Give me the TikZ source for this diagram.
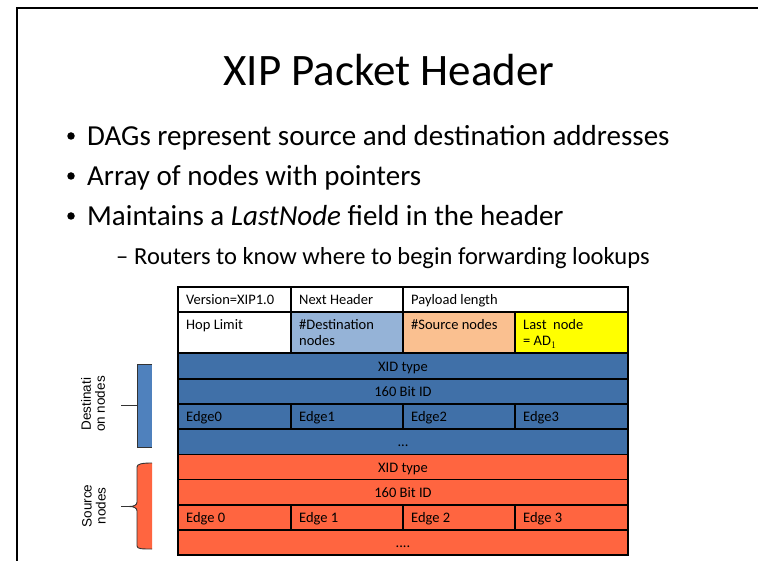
\documentclass[tikz,border=0pt]{standalone}
\usepackage{fontspec}
\setmainfont{Carlito}
\newfontfamily\arialfont{Liberation Sans}
\definecolor{tblblue}{RGB}{64,112,168}
\definecolor{brblue}{RGB}{79,129,189}
\definecolor{ltblue}{RGB}{149,179,215}
\definecolor{peach}{RGB}{250,192,144}
\definecolor{orng}{RGB}{255,101,64}
\definecolor{yel}{RGB}{255,255,0}
\tikzset{
  titletext/.style={anchor=base, inner sep=0pt, font=\fontsize{45}{54}\selectfont},
  bullettext/.style={anchor=base west, inner sep=0pt, font=\fontsize{29}{34}\selectfont},
  bulletdot/.style={circle, fill=black, inner sep=0pt, minimum size=7.5pt},
  subtext/.style={anchor=base west, inner sep=0pt, font=\fontsize{24.5}{29}\selectfont},
  celltext/.style={anchor=base west, inner sep=0pt, font=\fontsize{14.5}{17}\selectfont},
  ctrtext/.style={anchor=base, inner sep=0pt, font=\fontsize{14.5}{17}\selectfont},
  sidelabel/.style={rotate=90, align=center, inner sep=0pt, font=\arialfont\fontsize{13.5}{14}\selectfont},
  grid/.style={line width=1.3pt, black},
}
\begin{document}
\begin{tikzpicture}[x=1pt,y=-1pt]
\useasboundingbox (0,0) rectangle (758,561);
% slide frame
\draw[line width=2.6pt] (17,561) -- (17,8) -- (758,8);
% title
\node[titletext] (title) at (389,86) {XIP Packet Header};
% bullets
\node[bulletdot] (b1dot) at (71,136) {};
\node[bullettext] (b1) at (87,146) {DAGs represent source and destination addresses};
\node[bulletdot] (b2dot) at (71,176) {};
\node[bullettext] (b2) at (87,186) {Array of nodes with pointers};
\node[bulletdot] (b3dot) at (71,216) {};
\node[bullettext] (b3) at (87,226) {Maintains a \textit{LastNode} field in the header};
\node[subtext] (s1dash) at (116,265) {–};
\node[subtext] (s1) at (134,265) {Routers to know where to begin forwarding lookups};
% table fills
\fill[white] (178,287) rectangle (628,353);
\fill[ltblue] (291,312) rectangle (403,353);
\fill[peach] (403,312) rectangle (515,353);
\fill[yel] (515,312) rectangle (628,353);
\fill[tblblue] (178,353) rectangle (628,454.5);
\fill[orng] (178,454.5) rectangle (628,555);
% grid lines
\foreach \yy in {312,353,379,404,429,454.5,479.5,505,530}
  \draw[grid] (178,\yy) -- (628,\yy);
\draw[grid] (291,287) -- (291,353);
\draw[grid] (403,287) -- (403,353);
\draw[grid] (515,312) -- (515,353);
\foreach \xx in {291,403,515} {
  \draw[grid] (\xx,404) -- (\xx,429);
  \draw[grid] (\xx,505) -- (\xx,530);
}
\draw[line width=2pt] (178,287) rectangle (628,555);
% table texts
\node[celltext] (ver) at (186,305) {Version=XIP1.0};
\node[celltext] (nh) at (299,305) {Next Header};
\node[celltext] (pl) at (411,305) {Payload length};
\node[celltext] (hop) at (186,329.5) {Hop Limit};
\node[celltext] (dn1) at (299,329.5) {\#Destination};
\node[celltext] (dn2) at (299,346) {nodes};
\node[celltext] (sn) at (411,329.5) {\#Source nodes};
\node[celltext] (ln1) at (523,329.5) {Last\ \ node};
\node[celltext] (ln2) at (523,346) {= AD$_{\scriptstyle 1}$};
\node[ctrtext] (dxid) at (403,371) {XID type};
\node[ctrtext] (did) at (403,396) {160 Bit ID};
\node[celltext] (de0) at (186,421) {Edge0};
\node[celltext] (de1) at (299,421) {Edge1};
\node[celltext] (de2) at (411,421) {Edge2};
\node[celltext] (de3) at (523,421) {Edge3};
\node[ctrtext] (ddots) at (403,446) {...};
\node[ctrtext] (sxid) at (403,472) {XID type};
\node[ctrtext] (sid) at (403,497) {160 Bit ID};
\node[celltext] (se0) at (186,522) {Edge 0};
\node[celltext] (se1) at (299,522) {Edge 1};
\node[celltext] (se2) at (411,522) {Edge 2};
\node[celltext] (se3) at (523,522) {Edge 3};
\node[ctrtext] (sdots) at (403,547) {....};
% destination bracket
\fill[brblue] (137,364) rectangle (152,447);
\draw[line width=0.9pt, black!80] (152,364) -- (137,364) -- (137,447) -- (152,447);
\coordinate (dtip) at (137,405.5);
\coordinate (dtick) at (121,405.5);
\draw[line width=0.9pt, black!80] (dtick) -- (dtip);
\node[sidelabel] (dlabel) at (93,404) {Destinati\\on nodes};
% source brace
\fill[orng] (152,463) .. controls (142,463) and (137,464) .. (137,467) -- (137,502)
  .. controls (137,505) and (134,506.5) .. (129,506.5)
  .. controls (134,506.5) and (137,508) .. (137,511) -- (137,546)
  .. controls (137,549) and (142,549) .. (152,549) -- cycle;
\draw[line width=0.9pt, black!80] (152,463) .. controls (142,463) and (137,464) .. (137,467) -- (137,502)
  .. controls (137,505) and (134,506.5) .. (129,506.5)
  .. controls (134,506.5) and (137,508) .. (137,511) -- (137,546)
  .. controls (137,549) and (142,549) .. (152,549);
\coordinate (stip) at (129,506.5);
\coordinate (stick) at (121,506.5);
\draw[line width=0.9pt, black!80] (stick) -- (stip);
\node[sidelabel] (slabel) at (94,506) {Source\\nodes};
\end{tikzpicture}
\end{document}
